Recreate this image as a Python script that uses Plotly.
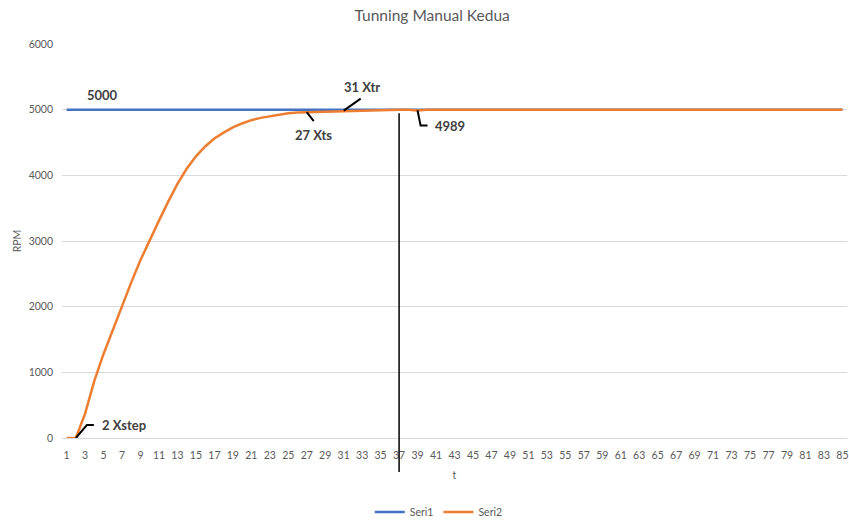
import plotly.graph_objects as go

# Time steps (categories on the x axis)
t = list(range(1, 86))

# Seri1: set point (RPM)
seri1 = [
    5000, 5000, 5000, 5000, 5000, 5000, 5000, 5000, 5000, 5000,
    5000, 5000, 5000, 5000, 5000, 5000, 5000, 5000, 5000, 5000,
    5000, 5000, 5000, 5000, 5000, 5000, 5000, 5000, 5000, 5000,
    5000, 5000, 5000, 5000, 5000, 5000, 5000, 5000, 5000, 5000,
    5000, 5000, 5000, 5000, 5000, 5000, 5000, 5000, 5000, 5000,
    5000, 5000, 5000, 5000, 5000, 5000, 5000, 5000, 5000, 5000,
    5000, 5000, 5000, 5000, 5000, 5000, 5000, 5000, 5000, 5000,
    5000, 5000, 5000, 5000, 5000, 5000, 5000, 5000, 5000, 5000,
    5000, 5000, 5000, 5000, 5000,
]

# Seri2: measured response (RPM)
seri2 = [
    0, 0, 370, 870, 1280, 1650, 2010, 2370, 2710, 3020,
    3310, 3600, 3870, 4100, 4290, 4440, 4560, 4650, 4730, 4790,
    4840, 4875, 4900, 4925, 4945, 4958, 4962, 4968, 4972, 4979,
    4985, 4990, 4993, 4995, 4997, 4998, 4999, 4999, 4989, 5000,
    5000, 5000, 5000, 5000, 5000, 5000, 5000, 5000, 5000, 5000,
    5000, 5000, 5000, 5000, 5000, 5000, 5000, 5000, 5000, 5000,
    5000, 5000, 5000, 5000, 5000, 5000, 5000, 5000, 5000, 5000,
    5000, 5000, 5000, 5000, 5000, 5000, 5000, 5000, 5000, 5000,
    5000, 5000, 5000, 5000, 5000,
]

x_ticks = list(range(1, 86, 2))
y_ticks = [0, 1000, 2000, 3000, 4000, 5000, 6000]

# Characteristic points of the step response
t_step, t_ts, t_tr, t_final = 2, 27, 31, 39
cursor_t = 37

BLUE = "#4472C4"
ORANGE = "#ED7D31"
GREY = "#595959"
DARK = "#404040"
FONT = "Lato"

fig = go.Figure()
fig.add_trace(go.Scatter(x=t, y=seri1, mode="lines", name="Seri1",
                         line=dict(color=BLUE, width=2.5)))
fig.add_trace(go.Scatter(x=t, y=seri2, mode="lines", name="Seri2",
                         line=dict(color=ORANGE, width=2.5)))


def val(step):
    return seri2[t.index(step)]


callouts = [
    # (x, y, text, leader path (pixels, +y up), xshift, yshift, xanchor)
    (t_step, val(t_step), "2 Xstep", "M0,0 L11,13 L18,13", 24, 13, "left"),
    (t_ts, val(t_ts), "27 Xts", "M0,0 L7,-9", 7, -23, "center"),
    (t_tr, val(t_tr), "31 Xtr", "M0,0 L17,12", 18, 24, "center"),
    (t_final, val(t_final), str(val(t_final)), "M0,0 L3,-15 L10,-15", 15, -16, "left"),
]

for x, y, text, path, xs, ys, xa in callouts:
    fig.add_shape(type="path", xref="x", yref="y",
                  xsizemode="pixel", ysizemode="pixel",
                  xanchor=x, yanchor=y, path=path,
                  line=dict(color="black", width=2), layer="above")
    fig.add_annotation(x=x, y=y, text=f"<b>{text}</b>", showarrow=False,
                       xanchor=xa, yanchor="middle", xshift=xs, yshift=ys,
                       font=dict(family=FONT, size=13, color=DARK))

# Label for the set point line
fig.add_annotation(x=5, y=seri1[4], text="<b>5000</b>", showarrow=False,
                   xanchor="center", yanchor="middle", xshift=-1, yshift=15,
                   font=dict(family=FONT, size=13, color=DARK))

# Vertical cursor line
fig.add_shape(type="line", xref="x", yref="paper",
              x0=cursor_t, x1=cursor_t, y0=-0.086, y1=0.824,
              line=dict(color="black", width=1.5), layer="above")

fig.update_layout(
    width=849, height=528,
    margin=dict(l=62, r=2, t=44, b=90),
    paper_bgcolor="white", plot_bgcolor="white",
    font=dict(family=FONT, size=10.5, color=GREY),
    title=dict(text="Tunning Manual Kedua", x=0.509, xref="container",
               xanchor="center", y=0.97, yanchor="middle",
               font=dict(family=FONT, size=15.5, color=GREY)),
    showlegend=True,
    legend=dict(orientation="h", x=0.48, xanchor="center",
                y=-0.188, yanchor="middle", itemwidth=30,
                font=dict(family=FONT, size=10.5, color=GREY)),
    xaxis=dict(range=[0.5, 85.5], tickmode="array", tickvals=x_ticks,
               ticktext=[str(v) for v in x_ticks], showgrid=False,
               showline=True, linecolor="#d9d9d9", linewidth=1,
               zeroline=False, ticks="", ticklabelstandoff=7,
               title=dict(text="t", standoff=12,
                          font=dict(family=FONT, size=10.5, color=GREY))),
    yaxis=dict(range=[0, 6000], tickmode="array", tickvals=y_ticks,
               showgrid=True, gridcolor="#d9d9d9", gridwidth=1,
               zeroline=False, ticks="", ticklabelstandoff=8,
               title=dict(text="RPM", standoff=4,
                          font=dict(family=FONT, size=10.5, color=GREY))),
)

fig.write_html("out.html")
